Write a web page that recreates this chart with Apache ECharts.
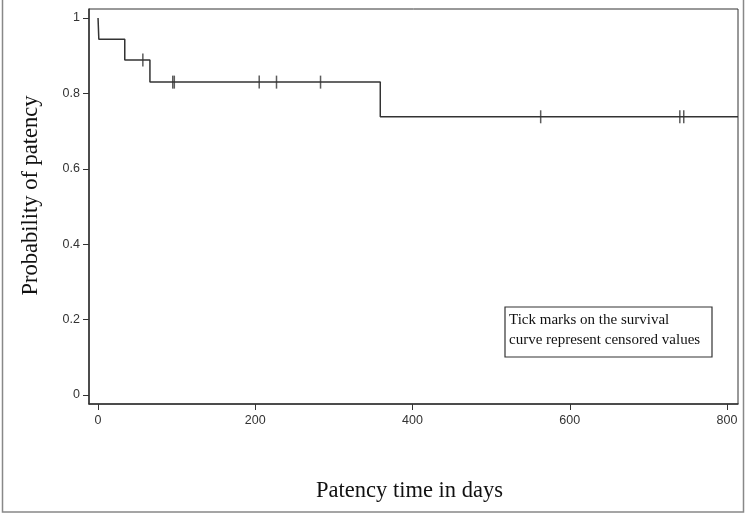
<!DOCTYPE html>
<html><head><meta charset="utf-8">
<script src="https://cdn.jsdelivr.net/npm/echarts@6/dist/echarts.min.js"></script>
<style>html,body{margin:0;padding:0;background:#fff}#c{width:746px;height:514px}</style>
</head><body><div id="c"></div>
<script>
// Kaplan-Meier step points (time in days, survival probability)
const kmTimes = [0, 1, 34, 66, 359, 814];
const kmSurv  = [1, 0.944, 0.889, 0.830, 0.738, 0.738];
// Censored observations (time, survival at that time)
const censorTimes = [57, 95, 97, 205, 227, 283, 563, 740, 745];
const censorSurv  = [0.889, 0.830, 0.830, 0.830, 0.830, 0.830, 0.738, 0.738, 0.738];
const xTicks = [0, 200, 400, 600, 800];
const yTicks = [0, 0.2, 0.4, 0.6, 0.8, 1];
const xTitle = 'Patency time in days';
const yTitle = 'Probability of patency';
const noteLines = ['Tick marks on the survival', 'curve represent censored values'];

const chart = echarts.init(document.getElementById('c'));
const serif = '"Liberation Serif", "DejaVu Serif", serif';
const sans = '"Liberation Sans", Arial, sans-serif';
chart.setOption({
  animation: false,
  grid: {left: 89, top: 9, right: 8, bottom: 110, show: true, borderColor: '#333', borderWidth: 1},
  xAxis: {
    type: 'value', min: -11.5, max: 814,
    splitLine: {show: false},
    axisLine: {onZero: false, lineStyle: {color: '#333', width: 1.5}},
    axisTick: {customValues: xTicks, length: 6, lineStyle: {color: '#333'}},
    axisLabel: {customValues: xTicks, color: '#333', fontFamily: sans, fontSize: 12.5, margin: 10},
    name: xTitle, nameLocation: 'middle', nameGap: 76,
    nameTextStyle: {fontFamily: serif, fontSize: 22.5, color: '#111', padding: [0, 8, 0, 0]}
  },
  yAxis: {
    type: 'value', min: -0.024, max: 1.024,
    splitLine: {show: false},
    axisLine: {onZero: false, lineStyle: {color: '#333', width: 1.5}},
    axisTick: {customValues: yTicks, length: 6, lineStyle: {color: '#333'}},
    axisLabel: {customValues: yTicks, color: '#333', fontFamily: sans, fontSize: 12.5, margin: 9},
    name: yTitle, nameLocation: 'middle', nameGap: 46, nameRotate: 90,
    nameTextStyle: {fontFamily: serif, fontSize: 22.5, color: '#111', padding: [0, 0, 0, 22]}
  },
  series: [
    {type: 'line', step: 'end', symbol: 'none',
     data: kmTimes.map((t, i) => [t, kmSurv[i]]),
     lineStyle: {color: '#333', width: 1.5}},
    {type: 'scatter', symbol: 'rect', symbolSize: [1.5, 13],
     data: censorTimes.map((t, i) => [t, censorSurv[i]]),
     itemStyle: {color: '#333'}}
  ],
  graphic: [
    {type: 'rect', shape: {x: 2.5, y: -2, width: 741, height: 514},
     style: {fill: 'none', stroke: '#888', lineWidth: 1.5}, silent: true},
    {type: 'rect', shape: {x: 505, y: 307, width: 207, height: 50},
     style: {fill: '#fff', stroke: '#333', lineWidth: 1.2}},
    {type: 'text', left: 509, top: 310,
     style: {text: noteLines.join('\n'), font: '15px ' + serif, fill: '#111', lineHeight: 20}}
  ]
});
</script></body></html>
